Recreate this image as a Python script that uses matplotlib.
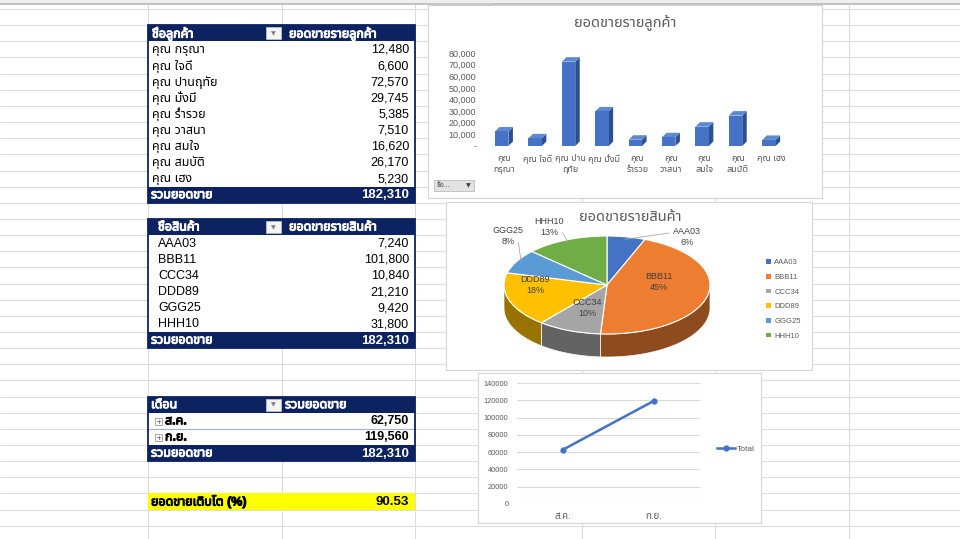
import matplotlib
matplotlib.use('Agg')
import numpy as np
import matplotlib.pyplot as plt
from matplotlib import font_manager
from matplotlib import patheffects
from matplotlib.patches import Rectangle, Polygon
from matplotlib.ticker import FuncFormatter

# ---- data ----
customers = ['คุณ กรุณา', 'คุณ ใจดี', 'คุณ ปานฤทัย', 'คุณ มั่งมี', 'คุณ ร่ำรวย',
             'คุณ วาสนา', 'คุณ สมใจ', 'คุณ สมบัติ', 'คุณ เฮง']
customer_sales = [12480, 6600, 72570, 29745, 5385, 7510, 16620, 26170, 5230]
customer_ticklabels = ['คุณ\nกรุณา', 'คุณ ใจดี', 'คุณ ปาน\nฤทัย', 'คุณ มั่งมี', 'คุณ\nร่ำรวย',
                       'คุณ\nวาสนา', 'คุณ\nสมใจ', 'คุณ\nสมบัติ', 'คุณ เฮง']

products = ['AAA03', 'BBB11', 'CCC34', 'DDD89', 'GGG25', 'HHH10']
product_sales = [7240, 101800, 10840, 21210, 9420, 31800]
pie_percent = [6, 45, 10, 18, 8, 13]  # shares printed on the pie

months = ['ส.ค.', 'ก.ย.']
month_sales = [62750, 119560]

total_sales = sum(customer_sales)
growth_pct = (month_sales[1] - month_sales[0]) / month_sales[0] * 100


# find a font that has Thai glyphs
def thai_family():
    from fontTools.ttLib import TTFont
    preferred = ['Tahoma', 'Leelawadee UI', 'Noto Sans Thai', 'Noto Sans Thai UI', 'Loma',
                 'Garuda', 'Umpush', 'Sarabun', 'Waree', 'Kinnari', 'Norasi']
    found = []
    for f in font_manager.fontManager.ttflist:
        try:
            cmap = TTFont(f.fname, fontNumber=0, lazy=True).getBestCmap()
        except Exception:
            continue
        if cmap and 0x0E01 in cmap:
            found.append(f.name)
    for p in preferred:
        if p in found:
            return p
    return found[0] if found else 'DejaVu Sans'


THAI = thai_family()
FAM = ['Liberation Sans', THAI, 'DejaVu Sans']
plt.rcParams['font.family'] = FAM

NAVY = '#0D2260'
GRID = '#DCDCDC'
TXT = '#595959'
BLUE = '#4472C4'
PIE_COLORS = ['#4472C4', '#ED7D31', '#A5A5A5', '#FFC000', '#5B9BD5', '#70AD47']

W, H = 960, 539
fig = plt.figure(figsize=(9.6, 5.39), dpi=100)
bg = fig.add_axes([0, 0, 1, 1])
bg.set_xlim(0, W)
bg.set_ylim(H, 0)
bg.axis('off')


def fig_rect(x0, y0, x1, y1):
    return [x0 / W, 1 - y1 / H, (x1 - x0) / W, (y1 - y0) / H]


def thick(color):
    # the Thai face has no bold cut, so fake it with a thin outline
    return [patheffects.withStroke(linewidth=0.7, foreground=color)]


# ---- worksheet grid ----
RH = 16.15
row_y = 9 + RH * np.arange(34)
col_x = [148, 282, 415, 582, 715, 849]
bg.hlines(row_y, 0, W, color=GRID, lw=0.8)
bg.vlines(col_x, 4, H, color=GRID, lw=0.8)
bg.add_patch(Rectangle((0, 0), W, 3.5, fc='#EEEEEE', ec='none'))
bg.hlines(3.8, 0, W, color='#BDBDBD', lw=1.3)

TX0, TXM, TX1 = 148, 282, 415


def dropdown(y_top):
    bg.add_patch(Rectangle((266, y_top + 2), 15, RH - 4, fc='#F4F4F4', ec='#BFBFBF', lw=0.6, zorder=4))
    bg.text(273.5, y_top + RH / 2 + 0.5, '▼', ha='center', va='center', fontsize=4.5,
            color='#808080', family='DejaVu Sans', zorder=5)


def draw_table(r0, head_left, head_right, labels, values, total, left_x=152, right_x=289,
               bold_body=False, expand=False):
    n = len(labels)
    top = row_y[r0]
    bottom = row_y[r0 + n + 2]
    bg.add_patch(Rectangle((TX0, top), TX1 - TX0, bottom - top, fc='white', ec='none', zorder=2))
    bg.add_patch(Rectangle((TX0, top), TX1 - TX0, RH, fc=NAVY, ec='none', zorder=3))
    bg.add_patch(Rectangle((TX0, row_y[r0 + n + 1]), TX1 - TX0, RH, fc=NAVY, ec='none', zorder=3))
    bg.add_patch(Rectangle((TX0, top), TX1 - TX0, bottom - top, fc='none', ec=NAVY, lw=1.3, zorder=6))
    yc = top + RH / 2 + 0.5
    bg.text(left_x, yc, head_left, ha='left', va='center', color='white', fontsize=9,
            weight='bold', zorder=5, path_effects=thick('white'))
    bg.text(right_x, yc, head_right, ha='left', va='center', color='white', fontsize=9,
            weight='bold', zorder=5, path_effects=thick('white'))
    dropdown(top)
    wt = 'bold' if bold_body else 'normal'
    for i, (lab, val) in enumerate(zip(labels, values)):
        y = row_y[r0 + 1 + i] + RH / 2 + 0.5
        tx = left_x
        if expand:
            bg.add_patch(Rectangle((155, y - 3.5), 7, 7, fc='white', ec='#9A9A9A', lw=0.6, zorder=4))
            bg.plot([156.8, 160.2], [y, y], color='#707070', lw=0.6, zorder=5)
            bg.plot([158.5, 158.5], [y - 1.7, y + 1.7], color='#707070', lw=0.6, zorder=5)
            tx = 165
            if i > 0:
                bg.hlines(row_y[r0 + 1 + i], TX0, TX1, color='#9DB0D6', lw=0.8, zorder=4)
        pe = thick('black') if bold_body else None
        bg.text(tx, y, lab, ha='left', va='center', fontsize=9, weight=wt, zorder=5, path_effects=pe)
        bg.text(409, y, f'{val:,}', ha='right', va='center', fontsize=9, weight=wt, zorder=5)
    y = row_y[r0 + n + 1] + RH / 2 + 0.5
    bg.text(151, y, 'รวมยอดขาย', ha='left', va='center', color='white', fontsize=9,
            weight='bold', zorder=5, path_effects=thick('white'))
    bg.text(409, y, f'{total:,}', ha='right', va='center', color='white', fontsize=9.5,
            weight='bold', zorder=5)


draw_table(1, 'ชื่อลูกค้า', 'ยอดขายรายลูกค้า', customers, customer_sales, total_sales)
draw_table(13, 'ชื่อสินค้า', 'ยอดขายรายสินค้า', products, product_sales, sum(product_sales),
           left_x=158)
draw_table(24, 'เดือน', 'รวมยอดขาย', months, month_sales, sum(month_sales), left_x=151,
           right_x=285, bold_body=True, expand=True)

# growth line
bg.add_patch(Rectangle((TX0, row_y[30]), TX1 - TX0, RH, fc='#FFFF00', ec='none', zorder=2))
yg = row_y[30] + RH / 2 + 0.5
bg.text(151, yg, 'ยอดขายเติบโต (%)', ha='left', va='center', fontsize=9, weight='bold', zorder=5,
        path_effects=thick('black'))
bg.text(409, yg, f'{growth_pct:.2f}', ha='right', va='center', fontsize=9.5, weight='bold', zorder=5)

# ---- chart frames ----
bg.add_patch(Rectangle((428, 5), 394, 193, fc='white', ec='#D4D4D4', lw=0.8, zorder=2))
bg.add_patch(Rectangle((446, 202), 366, 168, fc='white', ec='#D4D4D4', lw=0.8, zorder=2))
bg.add_patch(Rectangle((478, 373), 283, 150, fc='white', ec='#D4D4D4', lw=0.8, zorder=2))
# pivot field buttons on the column chart
bg.add_patch(Rectangle((433, 2.5), 59, 3.5, fc='#C8C8C8', ec='none', zorder=3))
bg.add_patch(Rectangle((434, 180), 40, 11, fc='#E2E2E2', ec='#BDBDBD', lw=0.6, zorder=3))
bg.text(437, 185.5, 'ชื่อ...', ha='left', va='center', fontsize=5, color='#404040', zorder=4)
bg.text(468, 186, '▼', ha='center', va='center', fontsize=4.5, color='#404040',
        family='DejaVu Sans', zorder=4)

# ---- column chart (3-D look) ----
bg.text(625, 23, 'ยอดขายรายลูกค้า', ha='center', va='center', fontsize=10.5, color=TXT, zorder=4)
bx0, by0, bx1, by1 = 487.3, 53, 787.9, 146
ax1 = fig.add_axes(fig_rect(bx0, by0, bx1, by1))
ax1.patch.set_visible(False)
ncat = len(customers)
ax1.set_xlim(-0.5, ncat - 0.5)
ax1.set_ylim(0, 80000)
depth_px = 4.5
dx = depth_px / ((bx1 - bx0) / ncat)
dy = depth_px * 80000 / (by1 - by0)
bars = ax1.bar(np.arange(ncat) - dx / 2, customer_sales, width=0.4, color=BLUE, zorder=3)
for b in bars:
    x0 = b.get_x()
    x1 = x0 + b.get_width()
    h = b.get_height()
    ax1.add_patch(Polygon([(x1, 0), (x1 + dx, dy), (x1 + dx, h + dy), (x1, h)],
                          fc='#2C4F91', ec='none', zorder=2))
    ax1.add_patch(Polygon([(x0, h), (x1, h), (x1 + dx, h + dy), (x0 + dx, h + dy)],
                          fc='#5F88D2', ec='none', zorder=2))
ax1.set_yticks(range(0, 80001, 10000))
ax1.yaxis.set_major_formatter(FuncFormatter(lambda v, p: '-' if v == 0 else f'{int(v):,}'))
ax1.set_xticks(np.arange(ncat), customer_ticklabels)
ax1.tick_params(axis='y', length=0, labelsize=6.5, labelcolor=TXT, pad=8)
ax1.tick_params(axis='x', length=0, labelsize=6.5, labelcolor=TXT, pad=6)
for s in ax1.spines.values():
    s.set_visible(False)

# ---- pie chart (3-D look) ----
bg.text(630, 217, 'ยอดขายรายสินค้า', ha='center', va='center', fontsize=10.5, color=TXT, zorder=4)
ax2 = fig.add_axes(fig_rect(446, 202, 812, 370))
wedges, _ = ax2.pie(pie_percent, colors=PIE_COLORS, startangle=90, counterclock=False,
                    wedgeprops=dict(edgecolor='white', linewidth=0.8, zorder=3))
ax2.set_aspect('auto')
a_px, b_px, cx, cy = 103, 49, 607, 285
ax2.set_xlim(-(cx - 446) / a_px, (812 - cx) / a_px)
ax2.set_ylim(-(370 - cy) / b_px, (cy - 202) / b_px)
ax2.axis('off')
depth = 23 / b_px


def front_arcs(t1, t2):
    arcs = []
    for k in (-360, 0, 360):
        lo, hi = max(t1, -180 + k), min(t2, k)
        if hi > lo:
            arcs.append((lo, hi))
    return arcs


for w, c in zip(wedges, PIE_COLORS):
    rgb = np.array(matplotlib.colors.to_rgb(c)) * 0.6
    for lo, hi in front_arcs(w.theta1, w.theta2):
        t = np.radians(np.linspace(lo, hi, 80))
        upper = np.column_stack([np.cos(t), np.sin(t)])
        lower = upper - [0, depth]
        ax2.add_patch(Polygon(np.vstack([upper, lower[::-1]]), fc=rgb, ec='white', lw=0.5, zorder=2))

label_uv = [(0.78, 0.98), (0.50, 0.06), (-0.19, -0.47), (-0.70, 0.0), (-0.96, 1.0), (-0.56, 1.18)]
for name, pct, (u, v) in zip(products, pie_percent, label_uv):
    ax2.text(u, v, f'{name}\n{pct}%', ha='center', va='center', fontsize=6.5, color='#404040',
             linespacing=1.3, zorder=5)
# leader lines for the outside labels
leaders = {0: (0.6, 1.06), 4: (-0.86, 0.86), 5: (-0.43, 1.06)}
for i, (lu, lv) in leaders.items():
    m = np.radians((wedges[i].theta1 + wedges[i].theta2) / 2)
    ax2.plot([0.95 * np.cos(m), lu], [0.95 * np.sin(m), lv], color='#A6A6A6', lw=0.6, zorder=4)
legend_handles = [Rectangle((0, 0), 1, 1, fc=c, ec='none') for c in PIE_COLORS]
ax2.legend(legend_handles, products, loc='center left', bbox_to_anchor=(0.865, 0.42),
           frameon=False, fontsize=5.5, handlelength=0.55, handleheight=0.55, handletextpad=0.5,
           labelspacing=1.0, borderpad=0, labelcolor=TXT)

# ---- line chart ----
ax3 = fig.add_axes(fig_rect(517, 383, 700, 504))
ax3.patch.set_visible(False)
ax3.plot(range(len(months)), month_sales, color=BLUE, lw=1.8, marker='o', ms=3.5, label='Total')
ax3.set_xlim(-0.5, len(months) - 0.5)
ax3.set_ylim(0, 140000)
ax3.set_yticks(range(0, 140001, 20000))
ax3.set_xticks(range(len(months)), months)
ax3.grid(axis='y', color='#D9D9D9', lw=0.8)
ax3.set_axisbelow(True)
ax3.tick_params(length=0, labelcolor=TXT)
ax3.tick_params(axis='y', pad=6, labelsize=5.3)
ax3.tick_params(axis='x', pad=5, labelsize=7)
for s in ax3.spines.values():
    s.set_visible(False)
ax3.legend(loc='center left', bbox_to_anchor=(1.07, 0.455), frameon=False, fontsize=6,
           handlelength=2.2, handletextpad=0.2, borderpad=0, labelcolor=TXT)

fig.savefig('out.png', dpi=100)
